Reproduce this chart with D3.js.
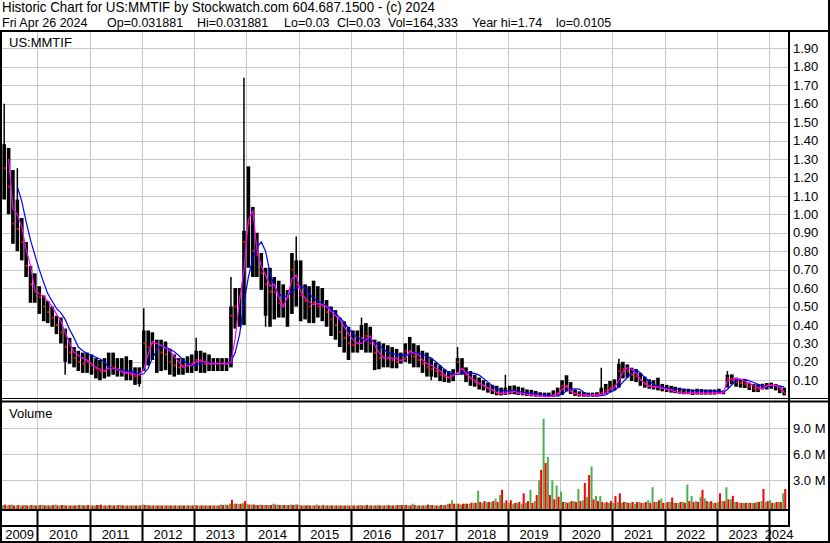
<!DOCTYPE html>
<html>
<head>
<meta charset="utf-8">
<script src="https://cdnjs.cloudflare.com/ajax/libs/d3/7.8.5/d3.min.js"></script>
<style>
body { margin: 0; background: #fff; }
svg { display: block; }
text { font-family: "Liberation Sans", Arial, sans-serif; fill: #000; }
</style>
</head>
<body>
<script>
// monthly bars, May 2009 .. Apr 2024
// rangeHigh / rangeLow = where the dense weekly bars sit
var rangeHigh = [
	1.38, 1.36, 1.24, 1.08, 0.98, 0.85, 0.72, 0.68,
	0.61, 0.56, 0.53, 0.50, 0.45, 0.44, 0.38, 0.33, 0.28, 0.26, 0.25, 0.25,
	0.24, 0.22, 0.21, 0.22, 0.25, 0.25, 0.22, 0.22, 0.23, 0.21, 0.17, 0.17,
	0.37, 0.37, 0.36, 0.32, 0.32, 0.31, 0.27, 0.24, 0.22, 0.22, 0.23, 0.24,
	0.26, 0.26, 0.25, 0.24, 0.22, 0.22, 0.22, 0.22, 0.50, 0.60, 0.60, 0.91,
	1.26, 1.04, 0.90, 0.79, 0.71, 0.71, 0.66, 0.64, 0.62, 0.59, 0.79, 0.75,
	0.75, 0.62, 0.61, 0.64, 0.61, 0.60, 0.535, 0.50, 0.48, 0.44, 0.42, 0.39,
	0.37, 0.37, 0.40, 0.41, 0.39, 0.32, 0.31, 0.30, 0.29, 0.28, 0.27, 0.25,
	0.30, 0.335, 0.30, 0.29, 0.26, 0.25, 0.22, 0.195, 0.18, 0.16, 0.15, 0.16,
	0.22, 0.22, 0.17, 0.15, 0.13, 0.115, 0.10, 0.087, 0.075, 0.07, 0.06, 0.06,
	0.07, 0.072, 0.065, 0.06, 0.05, 0.048, 0.042, 0.035, 0.033, 0.033, 0.045, 0.06,
	0.10, 0.127, 0.09, 0.05, 0.04, 0.036, 0.033, 0.033, 0.035, 0.06, 0.08, 0.096,
	0.105, 0.19, 0.20, 0.186, 0.168, 0.16, 0.14, 0.12, 0.105, 0.10, 0.114, 0.08,
	0.075, 0.07, 0.065, 0.06, 0.055, 0.054, 0.05, 0.054, 0.052, 0.05, 0.05, 0.05,
	0.054, 0.045, 0.13, 0.132, 0.114, 0.105, 0.105, 0.087, 0.08, 0.078, 0.081, 0.085,
	0.087, 0.08, 0.07, 0.06
];
var rangeLow = [
	1.08, 1.00, 0.84, 0.80, 0.75, 0.66, 0.52, 0.52,
	0.46, 0.42, 0.41, 0.39, 0.35, 0.30, 0.20, 0.19, 0.17, 0.15, 0.14, 0.14,
	0.13, 0.11, 0.10, 0.11, 0.12, 0.13, 0.12, 0.12, 0.10, 0.10, 0.075, 0.08,
	0.15, 0.18, 0.21, 0.14, 0.15, 0.155, 0.13, 0.12, 0.13, 0.13, 0.14, 0.14,
	0.15, 0.14, 0.14, 0.15, 0.15, 0.15, 0.15, 0.15, 0.17, 0.38, 0.39, 0.40,
	0.71, 0.66, 0.66, 0.59, 0.45, 0.39, 0.43, 0.44, 0.44, 0.39, 0.46, 0.50,
	0.42, 0.43, 0.41, 0.41, 0.44, 0.42, 0.39, 0.34, 0.32, 0.28, 0.25, 0.21,
	0.25, 0.25, 0.265, 0.25, 0.25, 0.155, 0.16, 0.17, 0.17, 0.165, 0.165, 0.19,
	0.20, 0.19, 0.17, 0.17, 0.14, 0.12, 0.12, 0.115, 0.095, 0.09, 0.087, 0.095,
	0.14, 0.13, 0.09, 0.07, 0.065, 0.05, 0.045, 0.033, 0.025, 0.018, 0.018, 0.02,
	0.024, 0.024, 0.02, 0.018, 0.015, 0.013, 0.011, 0.0105, 0.0105, 0.0105, 0.011, 0.012,
	0.02, 0.04, 0.025, 0.015, 0.012, 0.011, 0.011, 0.011, 0.012, 0.015, 0.024, 0.035,
	0.045, 0.06, 0.11, 0.114, 0.096, 0.09, 0.07, 0.06, 0.054, 0.05, 0.045, 0.04,
	0.036, 0.033, 0.03, 0.027, 0.024, 0.024, 0.02, 0.022, 0.022, 0.022, 0.022, 0.022,
	0.025, 0.024, 0.06, 0.078, 0.065, 0.06, 0.058, 0.047, 0.036, 0.036, 0.05, 0.05,
	0.054, 0.045, 0.03, 0.018
];
// single thin spikes poking out of the bars
var spikeMonth = ['2009-05', '2009-08', '2010-07', '2011-12', '2012-01', '2013-01', '2013-09', '2013-12',
	'2014-05', '2014-12', '2016-03', '2017-07', '2018-01', '2018-12', '2020-10', '2021-02', '2023-03'];
var spikeTo = [1.60, 1.25, 0.13, 0.065, 0.49, 0.33, 0.66, 1.74,
	0.39, 0.88, 0.44, 0.10, 0.28, 0.13, 0.168, 0.217, 0.15];
var close = [
	1.25, 1.15, 0.95, 0.92, 0.85, 0.72, 0.62, 0.58,
	0.55, 0.50, 0.47, 0.44, 0.40, 0.36, 0.28, 0.25, 0.22, 0.20, 0.19, 0.20,
	0.18, 0.16, 0.15, 0.15, 0.17, 0.17, 0.16, 0.15, 0.14, 0.13, 0.12, 0.13,
	0.30, 0.28, 0.30, 0.27, 0.25, 0.24, 0.20, 0.18, 0.17, 0.18, 0.18, 0.19,
	0.21, 0.20, 0.19, 0.19, 0.19, 0.19, 0.19, 0.19, 0.45, 0.50, 0.55, 0.85,
	0.95, 0.80, 0.78, 0.68, 0.62, 0.58, 0.58, 0.52, 0.50, 0.55, 0.70, 0.62,
	0.56, 0.53, 0.50, 0.52, 0.50, 0.50, 0.47, 0.43, 0.40, 0.36, 0.33, 0.30,
	0.29, 0.30, 0.33, 0.34, 0.30, 0.25, 0.22, 0.22, 0.22, 0.21, 0.20, 0.21,
	0.26, 0.25, 0.23, 0.21, 0.19, 0.17, 0.16, 0.15, 0.13, 0.12, 0.115, 0.13,
	0.20, 0.16, 0.13, 0.11, 0.09, 0.08, 0.07, 0.055, 0.045, 0.03, 0.03, 0.035,
	0.04, 0.04, 0.03, 0.03, 0.025, 0.022, 0.018, 0.015, 0.014, 0.014, 0.02, 0.03,
	0.07, 0.07, 0.04, 0.03, 0.022, 0.02, 0.02, 0.02, 0.022, 0.03, 0.045, 0.06,
	0.07, 0.15, 0.16, 0.15, 0.13, 0.12, 0.10, 0.08, 0.07, 0.065, 0.065, 0.06,
	0.05, 0.05, 0.04, 0.035, 0.033, 0.032, 0.03, 0.03, 0.03, 0.03, 0.03, 0.03,
	0.032, 0.035, 0.11, 0.10, 0.09, 0.085, 0.08, 0.065, 0.055, 0.05, 0.07, 0.07,
	0.075, 0.07, 0.05, 0.03
];
// short average (magenta) and long average (blue)
var maShort = [
	null, 1.30, 1.03, 1.00, 0.93, 0.81, 0.72, 0.59,
	0.57, 0.555, 0.53, 0.50, 0.46, 0.42, 0.36, 0.30, 0.25, 0.235, 0.22, 0.21,
	0.19, 0.17, 0.16, 0.15, 0.165, 0.165, 0.16, 0.145, 0.14, 0.14, 0.13, 0.13,
	0.16, 0.24, 0.31, 0.30, 0.29, 0.275, 0.26, 0.23, 0.20, 0.17, 0.18, 0.18,
	0.20, 0.21, 0.20, 0.19, 0.19, 0.19, 0.19, 0.19, 0.195, 0.33, 0.54, 0.70,
	0.97, 1.02, 0.81, 0.72, 0.67, 0.61, 0.62, 0.55, 0.50, 0.55, 0.65, 0.67,
	0.58, 0.545, 0.525, 0.51, 0.515, 0.51, 0.50, 0.475, 0.45, 0.43, 0.39, 0.35,
	0.32, 0.30, 0.30, 0.32, 0.34, 0.29, 0.25, 0.225, 0.22, 0.22, 0.22, 0.205,
	0.215, 0.26, 0.245, 0.24, 0.21, 0.19, 0.18, 0.165, 0.15, 0.13, 0.114, 0.125,
	0.14, 0.165, 0.14, 0.115, 0.10, 0.085, 0.073, 0.058, 0.047, 0.035, 0.027, 0.027,
	0.035, 0.04, 0.03, 0.027, 0.024, 0.02, 0.018, 0.015, 0.012, 0.011, 0.015, 0.022,
	0.05, 0.068, 0.04, 0.027, 0.022, 0.02, 0.019, 0.018, 0.018, 0.023, 0.03, 0.05,
	0.06, 0.10, 0.145, 0.168, 0.16, 0.14, 0.105, 0.085, 0.065, 0.065, 0.064, 0.056,
	0.052, 0.046, 0.038, 0.033, 0.03, 0.029, 0.029, 0.029, 0.029, 0.029, 0.029, 0.029,
	0.03, 0.033, 0.096, 0.108, 0.11, 0.106, 0.095, 0.083, 0.07, 0.06, 0.054, 0.07,
	0.072, 0.072, 0.062, 0.035
];
var maLong = [
	null, null, null, 1.15, 1.07, 0.96, 0.86, 0.78,
	0.70, 0.63, 0.57, 0.53, 0.49, 0.465, 0.43, 0.375, 0.33, 0.28, 0.26, 0.245,
	0.235, 0.225, 0.215, 0.20, 0.17, 0.165, 0.16, 0.155, 0.15, 0.15, 0.14, 0.13,
	0.135, 0.165, 0.22, 0.26, 0.29, 0.28, 0.27, 0.255, 0.235, 0.21, 0.19, 0.18,
	0.185, 0.19, 0.20, 0.195, 0.19, 0.19, 0.19, 0.19, 0.20, 0.25, 0.35, 0.52,
	0.66, 0.76, 0.82, 0.85, 0.80, 0.68, 0.61, 0.57, 0.55, 0.56, 0.58, 0.60,
	0.61, 0.60, 0.57, 0.545, 0.53, 0.52, 0.50, 0.49, 0.465, 0.44, 0.415, 0.38,
	0.355, 0.33, 0.32, 0.32, 0.315, 0.305, 0.29, 0.27, 0.25, 0.245, 0.24, 0.235,
	0.235, 0.245, 0.25, 0.245, 0.24, 0.23, 0.22, 0.20, 0.18, 0.16, 0.14, 0.133,
	0.132, 0.137, 0.14, 0.14, 0.137, 0.128, 0.11, 0.09, 0.07, 0.052, 0.045, 0.042,
	0.042, 0.042, 0.04, 0.035, 0.032, 0.03, 0.027, 0.024, 0.021, 0.018, 0.015, 0.017,
	0.025, 0.042, 0.052, 0.054, 0.052, 0.035, 0.022, 0.017, 0.015, 0.017, 0.02, 0.035,
	0.045, 0.065, 0.09, 0.115, 0.142, 0.158, 0.14, 0.115, 0.095, 0.078, 0.068, 0.062,
	0.058, 0.056, 0.054, 0.052, 0.05, 0.047, 0.045, 0.044, 0.043, 0.042, 0.042, 0.041,
	0.039, 0.036, 0.05, 0.075, 0.098, 0.104, 0.105, 0.097, 0.088, 0.078, 0.07, 0.066,
	0.07, 0.072, 0.068, 0.064
];
// volume in millions: biggest up (green) and down (red) bar each month
var volUp = [
	0.15, 0.1, 0.2, 0.1, 0.1, 0.15, 0.1, 0.1,
	0.1, 0.15, 0.1, 0.1, 0.2, 0.1, 0.15, 0.1, 0.1, 0.1, 0.15, 0.1,
	0.1, 0.1, 0.15, 0.1, 0.1, 0.1, 0.1, 0.15, 0.1, 0.1, 0.1, 0.1,
	0.2, 0.15, 0.1, 0.1, 0.1, 0.1, 0.1, 0.1, 0.1, 0.1, 0.1, 0.1,
	0.15, 0.1, 0.1, 0.1, 0.1, 0.1, 0.2, 0.2, 0.3, 0.3, 0.25, 0.35,
	0.25, 0.2, 0.15, 0.2, 0.15, 0.15, 0.3, 0.2, 0.15, 0.15, 0.2, 0.2,
	0.15, 0.1, 0.15, 0.1, 0.2, 0.1, 0.1, 0.1, 0.1, 0.1, 0.1, 0.1,
	0.1, 0.1, 0.15, 0.1, 0.1, 0.1, 0.15, 0.1, 0.1, 0.1, 0.1, 0.15,
	0.15, 0.1, 0.3, 0.1, 0.1, 0.1, 0.15, 0.1, 0.1, 0.15, 0.3, 0.7,
	0.3, 0.2, 0.3, 0.3, 0.4, 1.8, 0.4, 0.5, 0.5, 0.9, 1.3, 0.4,
	0.4, 0.3, 0.4, 0.3, 0.4, 1.9, 0.6, 3.0, 10.1, 5.7, 3.0, 2.4,
	1.7, 0.5, 0.5, 0.6, 2.0, 0.7, 1.1, 4.6, 1.2, 1.2, 0.4, 0.4,
	0.4, 0.5, 0.4, 0.5, 0.4, 0.3, 0.5, 0.4, 0.7, 2.2, 0.5, 0.9,
	0.4, 0.5, 0.4, 0.4, 0.5, 2.5, 1.2, 0.6, 1.1, 0.9, 0.5, 0.4,
	0.5, 0.6, 2.2, 0.8, 0.5, 0.4, 0.4, 0.4, 0.4, 0.5, 0.6, 0.5,
	0.7, 0.4, 0.5, 1.5
];
var volDown = [
	0.2, 0.15, 0.1, 0.15, 0.1, 0.1, 0.15, 0.1,
	0.15, 0.1, 0.1, 0.15, 0.1, 0.15, 0.1, 0.1, 0.1, 0.15, 0.1, 0.15,
	0.1, 0.15, 0.2, 0.1, 0.15, 0.1, 0.15, 0.1, 0.1, 0.1, 0.1, 0.1,
	0.15, 0.1, 0.1, 0.1, 0.1, 0.1, 0.1, 0.1, 0.1, 0.1, 0.1, 0.1,
	0.1, 0.1, 0.1, 0.1, 0.1, 0.1, 0.15, 0.15, 0.75, 0.3, 0.3, 0.6,
	0.2, 0.2, 0.15, 0.15, 0.15, 0.15, 0.2, 0.15, 0.15, 0.15, 0.15, 0.2,
	0.1, 0.1, 0.1, 0.1, 0.1, 0.15, 0.1, 0.1, 0.1, 0.1, 0.1, 0.1,
	0.1, 0.1, 0.1, 0.15, 0.1, 0.1, 0.1, 0.1, 0.15, 0.1, 0.15, 0.15,
	0.15, 0.1, 0.15, 0.1, 0.1, 0.2, 0.15, 0.1, 0.15, 0.15, 0.3, 0.3,
	0.3, 0.3, 0.3, 0.4, 0.4, 0.5, 0.6, 0.5, 0.6, 0.5, 1.9, 0.7,
	0.7, 0.4, 0.5, 1.5, 0.6, 0.4, 1.3, 4.2, 5.0, 1.3, 0.8, 1.1,
	0.5, 0.4, 0.6, 0.5, 0.6, 2.7, 3.6, 0.8, 0.6, 0.5, 0.5, 0.6,
	1.2, 1.5, 0.5, 0.4, 0.5, 0.5, 0.4, 0.5, 0.4, 0.5, 0.7, 0.4,
	0.5, 1.0, 0.4, 0.5, 0.4, 0.6, 0.5, 0.5, 1.9, 0.6, 0.6, 0.4,
	1.5, 0.6, 0.8, 1.2, 0.5, 0.4, 0.4, 0.4, 0.4, 0.5, 2.0, 0.6,
	0.4, 0.5, 0.5, 2.0
];
var priceTicks = [0.1, 0.2, 0.3, 0.4, 0.5, 0.6, 0.7, 0.8, 0.9, 1.0, 1.1, 1.2, 1.3, 1.4, 1.5, 1.6, 1.7, 1.8, 1.9];
var volTicks = [3, 6, 9];
var years = [2009, 2010, 2011, 2012, 2013, 2014, 2015, 2016, 2017, 2018, 2019, 2020, 2021, 2022, 2023, 2024];

var headLine1 = 'Historic Chart for US:MMTIF by Stockwatch.com 604.687.1500 - (c) 2024';
var headLine2 = ['Fri Apr 26 2024', 'Op=0.031881', 'Hi=0.031881', 'Lo=0.03', 'Cl=0.03', 'Vol=164,333', 'Year hi=1.74', 'lo=0.0105'];

// ------------------------------------------------------------------

var W = 830, H = 543;
var left = 2, right = 789;
var priceTop = 31, priceBottom = 398.7;
var volBottom = 509;

var dates = rangeHigh.map(function(d, i) {
	return new Date(2009, 4 + i, 15);
});
var parseMonth = d3.timeParse('%Y-%m');

var x = d3.scaleTime().domain([new Date(2009, 0, 1), new Date(2025, 0, 1)]).range([-15, 821.6]);
var y = d3.scaleLinear().domain([0, 2]).range([priceBottom, 29.9]);
var yv = d3.scaleLinear().domain([0, 12]).range([506.3, 402.3]);

var svg = d3.select('body').append('svg').attr('width', W).attr('height', H);
svg.append('rect').attr('width', W).attr('height', H).attr('fill', '#fff');

svg.append('clipPath').attr('id', 'plotClip').append('rect')
	.attr('x', left).attr('y', priceTop).attr('width', right - left - 1).attr('height', volBottom - priceTop);

var grid = svg.append('g').attr('stroke', '#c8c8c8').attr('stroke-width', 1);
priceTicks.forEach(function(t) {
	grid.append('line').attr('x1', left).attr('x2', right).attr('y1', Math.round(y(t)) + 0.5).attr('y2', Math.round(y(t)) + 0.5);
});
volTicks.forEach(function(t) {
	grid.append('line').attr('x1', left).attr('x2', right).attr('y1', Math.round(yv(t)) + 0.5).attr('y2', Math.round(yv(t)) + 0.5);
});
years.slice(1).forEach(function(yr) {
	var gx = Math.round(x(new Date(yr, 0, 1))) + 0.5;
	grid.append('line').attr('x1', gx).attr('x2', gx).attr('y1', priceTop).attr('y2', volBottom);
});

var plot = svg.append('g').attr('clip-path', 'url(#plotClip)');

// thin spikes
plot.append('g').selectAll('line').data(spikeMonth).enter().append('line')
	.attr('x1', function(m) { return x(d3.timeDay.offset(parseMonth(m), 14)); })
	.attr('x2', function(m) { return x(d3.timeDay.offset(parseMonth(m), 14)); })
	.attr('y1', function(m, k) { return y(spikeTo[k]); })
	.attr('y2', function(m) {
		var i = d3.timeMonth.count(new Date(2009, 4, 1), parseMonth(m));
		return y((rangeHigh[i] + rangeLow[i]) / 2);
	})
	.attr('stroke', '#000').attr('stroke-width', 1.5);

// price bars
plot.append('g').selectAll('rect').data(dates).enter().append('rect')
	.attr('x', function(d) { return x(d) - 1.8; })
	.attr('width', 3.6)
	.attr('y', function(d, i) { return y(rangeHigh[i]); })
	.attr('height', function(d, i) { return Math.max(1, y(rangeLow[i]) - y(rangeHigh[i])); })
	.attr('fill', '#000');

plot.append('g').selectAll('rect').data(dates).enter().append('rect')
	.attr('x', function(d) { return x(d) - 0.5; })
	.attr('width', 2)
	.attr('y', function(d, i) { return y(close[i]) - 1; })
	.attr('height', 2)
	.attr('fill', '#ff0000');

function maLine(arr) {
	return d3.line()
		.defined(function(d, i) { return arr[i] != null; })
		.x(function(d) { return x(d); })
		.y(function(d, i) { return y(arr[i]); });
}
plot.append('path').datum(dates).attr('d', maLine(maLong))
	.attr('fill', 'none').attr('stroke', '#0000ff').attr('stroke-width', 1.2);
plot.append('path').datum(dates).attr('d', maLine(maShort))
	.attr('fill', 'none').attr('stroke', '#ff00ff').attr('stroke-width', 1.2);

// volume bars
plot.append('g').selectAll('rect').data(dates).enter().append('rect')
	.attr('x', function(d) { return x(d) - 2; })
	.attr('width', 2)
	.attr('y', function(d, i) { return yv(volUp[i]); })
	.attr('height', function(d, i) { return volBottom - yv(volUp[i]); })
	.attr('fill', '#4caf50');
plot.append('g').selectAll('rect').data(dates).enter().append('rect')
	.attr('x', function(d) { return x(d); })
	.attr('width', 2)
	.attr('y', function(d, i) { return yv(volDown[i]); })
	.attr('height', function(d, i) { return volBottom - yv(volDown[i]); })
	.attr('fill', '#ff0000');

// right axes
var pAxis = svg.append('g').attr('transform', 'translate(' + (right + 1) + ',0)')
	.call(d3.axisRight(y).tickValues(priceTicks).tickSize(0).tickPadding(3).tickFormat(d3.format('.2f')));
var vAxis = svg.append('g').attr('transform', 'translate(' + (right + 1) + ',0)')
	.call(d3.axisRight(yv).tickValues(volTicks).tickSize(0).tickPadding(3).tickFormat(function(d) { return d.toFixed(1) + ' M'; }));
[pAxis, vAxis].forEach(function(a) {
	a.select('.domain').remove();
	a.selectAll('text').attr('font-size', 13).attr('font-family', '"Liberation Sans", Arial, sans-serif').attr('fill', '#000');
});

// frame lines
var frame = svg.append('g').attr('fill', '#000');
frame.append('rect').attr('x', 0).attr('y', 30).attr('width', W).attr('height', 2);
frame.append('rect').attr('x', 0).attr('y', 398).attr('width', W).attr('height', 1);
frame.append('rect').attr('x', 0).attr('y', 400.5).attr('width', W).attr('height', 2);
frame.append('rect').attr('x', 0).attr('y', volBottom).attr('width', right + 1).attr('height', 2);
frame.append('rect').attr('x', 0).attr('y', 525).attr('width', right + 1).attr('height', 2);
frame.append('rect').attr('x', 788).attr('y', 30).attr('width', 2).attr('height', 497);
frame.append('rect').attr('x', 0).attr('y', 30).attr('width', 2).attr('height', H - 30);
frame.append('rect').attr('x', W - 2).attr('y', 0).attr('width', 2).attr('height', H);
frame.append('rect').attr('x', 0).attr('y', H - 2).attr('width', W).attr('height', 2);
years.slice(1).forEach(function(yr) {
	frame.append('rect').attr('x', Math.round(x(new Date(yr, 0, 1))) - 0.5).attr('y', volBottom).attr('width', 2).attr('height', H - volBottom);
});

// year labels
svg.append('g').selectAll('text').data(years).enter().append('text')
	.attr('x', function(yr) {
		var a = Math.max(left, x(new Date(yr, 0, 1)));
		var b = Math.min(right, x(new Date(yr + 1, 0, 1)));
		return (a + b) / 2;
	})
	.attr('y', 539)
	.attr('text-anchor', 'middle')
	.attr('font-size', 13)
	.text(function(yr) { return yr; });

// panel labels
svg.append('text').attr('x', 9).attr('y', 47).attr('font-size', 13).text('US:MMTIF');
svg.append('text').attr('x', 9).attr('y', 418).attr('font-size', 13).text('Volume');

// header
svg.append('text').attr('x', 2).attr('y', 12).attr('font-size', 14)
	.attr('textLength', 433).attr('lengthAdjust', 'spacingAndGlyphs').text(headLine1);
var headX = [2, 107, 197, 284, 337, 388, 472, 556];
svg.append('g').selectAll('text').data(headLine2).enter().append('text')
	.attr('x', function(d, i) { return headX[i]; })
	.attr('y', 27)
	.attr('font-size', 12.5)
	.text(function(d) { return d; });
</script>
</body>
</html>
